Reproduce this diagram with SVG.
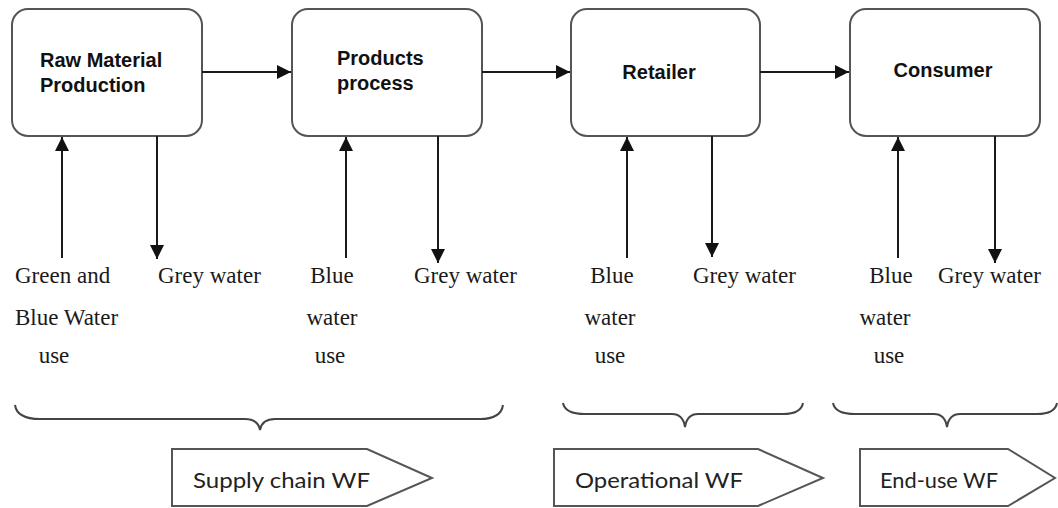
<svg xmlns="http://www.w3.org/2000/svg" width="1058" height="508" viewBox="0 0 1058 508">
  <style>
    .box { fill: #ffffff; stroke: #555555; stroke-width: 2; }
    .stage { font-family: "Liberation Sans", Arial, sans-serif; font-size: 20px; font-weight: bold; fill: #111111; }
    .flow { fill: none; stroke: #1a1a1a; stroke-width: 2; }
    .water { font-family: "Liberation Serif", "Times New Roman", serif; font-size: 23px; fill: #1a1a1a; }
    .brace { fill: none; stroke: #444444; stroke-width: 2; }
    .tag { fill: #ffffff; stroke: #555555; stroke-width: 2; }
    .tagtext { font-family: Lato, "Open Sans", sans-serif; font-size: 22px; fill: #222222; }
  </style>
  <defs>
    <marker id="head" markerUnits="userSpaceOnUse" markerWidth="16" markerHeight="16" viewBox="0 0 16 16" refX="15" refY="8" orient="auto">
      <path d="M1,1 L15,8 L1,15 Z" fill="#111111"/>
    </marker>
  </defs>

  <!-- process stages -->
  <g id="raw-material">
    <rect class="box" x="12" y="9" width="190" height="127" rx="16"/>
    <text class="stage" x="40" y="67">Raw Material</text>
    <text class="stage" x="40" y="92">Production</text>
  </g>
  <g id="products-process">
    <rect class="box" x="292" y="9" width="190" height="127" rx="16"/>
    <text class="stage" x="337" y="65">Products</text>
    <text class="stage" x="337" y="90">process</text>
  </g>
  <g id="retailer">
    <rect class="box" x="571" y="9" width="189" height="127" rx="16"/>
    <text class="stage" x="659" y="79" text-anchor="middle">Retailer</text>
  </g>
  <g id="consumer">
    <rect class="box" x="850" y="9" width="190" height="127" rx="16"/>
    <text class="stage" x="943" y="77" text-anchor="middle" font-weight="normal" font-size="21.5">Consumer</text>
  </g>

  <!-- connectors -->
  <g id="connectors">
    <line class="flow" x1="202" y1="72" x2="291" y2="72" marker-end="url(#head)"/>
    <line class="flow" x1="482" y1="72" x2="570" y2="72" marker-end="url(#head)"/>
    <line class="flow" x1="760" y1="72" x2="849" y2="72" marker-end="url(#head)"/>

    <line class="flow" x1="62" y1="258" x2="62" y2="137" marker-end="url(#head)"/>
    <line class="flow" x1="157" y1="136" x2="157" y2="259" marker-end="url(#head)"/>
    <line class="flow" x1="346" y1="258" x2="346" y2="137" marker-end="url(#head)"/>
    <line class="flow" x1="438" y1="136" x2="438" y2="263" marker-end="url(#head)"/>
    <line class="flow" x1="627" y1="258" x2="627" y2="137" marker-end="url(#head)"/>
    <line class="flow" x1="712" y1="136" x2="712" y2="257" marker-end="url(#head)"/>
    <line class="flow" x1="898" y1="258" x2="898" y2="137" marker-end="url(#head)"/>
    <line class="flow" x1="995" y1="136" x2="995" y2="263" marker-end="url(#head)"/>
  </g>

  <!-- water inputs and outputs -->
  <g id="water-labels">
    <text class="water" x="15" y="283">Green and</text>
    <text class="water" x="15" y="325">Blue Water</text>
    <text class="water" x="54" y="363" text-anchor="middle">use</text>
    <text class="water" x="158" y="283">Grey water</text>

    <text class="water" x="332" y="283" text-anchor="middle">Blue</text>
    <text class="water" x="332" y="325" text-anchor="middle">water</text>
    <text class="water" x="330" y="363" text-anchor="middle">use</text>
    <text class="water" x="414" y="283">Grey water</text>

    <text class="water" x="612" y="283" text-anchor="middle">Blue</text>
    <text class="water" x="610" y="325" text-anchor="middle">water</text>
    <text class="water" x="610" y="363" text-anchor="middle">use</text>
    <text class="water" x="693" y="283">Grey water</text>

    <text class="water" x="891" y="283" text-anchor="middle">Blue</text>
    <text class="water" x="885" y="325" text-anchor="middle">water</text>
    <text class="water" x="889" y="363" text-anchor="middle">use</text>
    <text class="water" x="938" y="283">Grey water</text>
  </g>

  <!-- groupings -->
  <g id="braces">
    <path class="brace" d="M15,405 Q17,419 40,419 L245,419 Q258,419 260,430 Q262,419 275,419 L480,419 Q501,419 503,405"/>
    <path class="brace" d="M563,403 Q565,414 585,414 L672,414 Q683,414 685,427 Q687,414 698,414 L783,414 Q801,414 803,403"/>
    <path class="brace" d="M833,403 Q835,414 855,414 L934,414 Q945,414 947,427 Q949,414 960,414 L1037,414 Q1055,414 1057,403"/>
  </g>

  <g id="supply-chain-wf">
    <path class="tag" d="M172,449 L367,449 L432,478 L367,506 L172,506 Z"/>
    <text class="tagtext" x="193" y="488" textLength="177" lengthAdjust="spacingAndGlyphs">Supply chain WF</text>
  </g>
  <g id="operational-wf">
    <path class="tag" d="M554,449 L758,449 L823,478 L758,506 L554,506 Z"/>
    <text class="tagtext" x="575" y="488" textLength="168" lengthAdjust="spacingAndGlyphs">Operational WF</text>
  </g>
  <g id="end-use-wf">
    <path class="tag" d="M860,449 L1008,449 L1055,478 L1008,506 L860,506 Z"/>
    <text class="tagtext" x="880" y="488" textLength="118" lengthAdjust="spacingAndGlyphs">End-use WF</text>
  </g>
</svg>
